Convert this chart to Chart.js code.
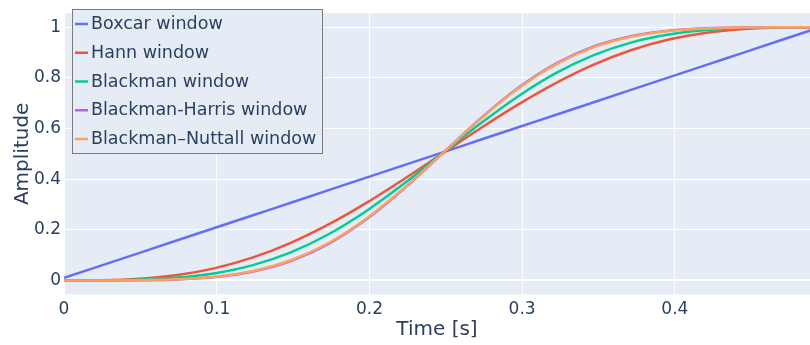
<!DOCTYPE html>
<html>
<head>
<meta charset="utf-8">
<script src="https://cdn.jsdelivr.net/npm/chart.js@4.4.1/dist/chart.umd.min.js"></script>
<style>
  html, body { margin: 0; padding: 0; background: #ffffff; }
  #wrap { position: relative; width: 810px; height: 345px; }
</style>
</head>
<body>
<div id="wrap"><canvas id="c" width="810" height="345"></canvas></div>
<script>
// Sample times (s) across the 0.495 s window
const timeS = [0, 0.02475, 0.0495, 0.07425, 0.099, 0.12375, 0.1485, 0.17325, 0.198, 0.22275,
  0.2475, 0.27225, 0.297, 0.32175, 0.3465, 0.37125, 0.396, 0.42075, 0.4455, 0.47025, 0.495];

// Normalised cumulative amplitude of each window
const boxcar = [0.01, 0.0595, 0.109, 0.1585, 0.208, 0.2575, 0.307, 0.3565, 0.406, 0.4555,
  0.505, 0.5545, 0.604, 0.6535, 0.703, 0.7525, 0.802, 0.8515, 0.901, 0.9505, 1.0];
const hann = [0, 0.00082, 0.00645, 0.02124, 0.04863, 0.09085, 0.14863, 0.22124, 0.30645, 0.40082,
  0.5, 0.59918, 0.69355, 0.77876, 0.85137, 0.90915, 0.95137, 0.97876, 0.99355, 0.99918, 1.0];
const blackman = [0, 0.00036, 0.00305, 0.01114, 0.02871, 0.06053, 0.11089, 0.1823, 0.27421, 0.38254,
  0.5, 0.61746, 0.72579, 0.8177, 0.88911, 0.93947, 0.97129, 0.98886, 0.99695, 0.99964, 1.0];
const blackmanHarris = [0, 0.00008, 0.00084, 0.00403, 0.01341, 0.03511, 0.07657, 0.14441, 0.24122, 0.36324,
  0.5, 0.63676, 0.75878, 0.85559, 0.92343, 0.96489, 0.98659, 0.99597, 0.99916, 0.99992, 1.0];
const blackmanNuttall = [0, 0.00014, 0.00109, 0.00473, 0.01482, 0.03742, 0.07968, 0.14785, 0.24421, 0.365,
  0.5, 0.635, 0.75579, 0.85215, 0.92032, 0.96258, 0.98518, 0.99527, 0.99891, 0.99986, 1.0];

const seriesNames = ['Boxcar window', 'Hann window', 'Blackman window', 'Blackman-Harris window', 'Blackman\u2013Nuttall window'];
const seriesValues = [boxcar, hann, blackman, blackmanHarris, blackmanNuttall];
const seriesColors = ['#636efa', '#EF553B', '#00cc96', '#ab63fa', '#FFA15A'];

const xTicks = [0, 0.1, 0.2, 0.3, 0.4];
const yTicks = [0, 0.2, 0.4, 0.6, 0.8, 1];

const FONT = 'DejaVu Sans';
const TEXT = '#2a3f5f';
const PLOT_BG = '#E5ECF6';

const plotBackground = {
  id: 'plotBackground',
  beforeDraw(chart) {
    const { ctx, chartArea: a } = chart;
    ctx.save();
    ctx.fillStyle = PLOT_BG;
    ctx.fillRect(a.left, a.top, a.right - a.left, a.bottom - a.top);
    ctx.restore();
  }
};

// Boxed legend in the upper-left corner of the plot
const boxedLegend = {
  id: 'boxedLegend',
  afterDraw(chart) {
    const ctx = chart.ctx;
    const x0 = 72.5, y0 = 9.5, w = 250, h = 144;
    ctx.save();
    ctx.fillStyle = PLOT_BG;
    ctx.fillRect(x0, y0, w, h);
    ctx.strokeStyle = '#7a7a7a';
    ctx.lineWidth = 1;
    ctx.strokeRect(x0, y0, w, h);
    ctx.font = '17.5px "' + FONT + '"';
    ctx.textBaseline = 'middle';
    ctx.textAlign = 'left';
    seriesNames.forEach((name, i) => {
      const y = 24 + 28.75 * i;
      ctx.strokeStyle = seriesColors[i];
      ctx.lineWidth = 2.5;
      ctx.beginPath();
      ctx.moveTo(75, y);
      ctx.lineTo(88, y);
      ctx.stroke();
      ctx.fillStyle = TEXT;
      ctx.fillText(name, 91, y + 0.5);
    });
    ctx.restore();
  }
};

const datasets = seriesNames.map((name, i) => ({
  label: name,
  data: timeS.map((t, k) => ({ x: t, y: seriesValues[i][k] })),
  borderColor: seriesColors[i],
  backgroundColor: seriesColors[i],
  borderWidth: 2.5,
  pointRadius: 0,
  fill: false,
  cubicInterpolationMode: 'monotone',
  order: seriesNames.length - i
}));

new Chart(document.getElementById('c'), {
  type: 'line',
  data: { datasets },
  options: {
    responsive: false,
    animation: false,
    devicePixelRatio: 1,
    layout: { padding: { top: 5.5, right: 0, bottom: 0, left: 0 } },
    plugins: { legend: { display: false }, tooltip: { enabled: false } },
    scales: {
      x: {
        type: 'linear',
        min: 0,
        max: 0.4885,
        afterBuildTicks: s => { s.ticks = xTicks.map(v => ({ value: v })); },
        afterFit: s => { s.height = 50.5; },
        grid: { color: '#ffffff', lineWidth: 1, drawTicks: false },
        border: { display: false },
        ticks: { padding: 5, color: TEXT, font: { family: FONT, size: 17 }, maxRotation: 0,
                 callback: v => String(v) },
        title: { display: true, text: 'Time [s]', color: TEXT, font: { family: FONT, size: 20 },
                 padding: { top: 0, bottom: 3 } }
      },
      y: {
        type: 'linear',
        min: -0.0556,
        max: 1.0556,
        afterBuildTicks: s => { s.ticks = yTicks.map(v => ({ value: v })); },
        afterFit: s => { s.width = 64; },
        grid: { color: '#ffffff', lineWidth: c => (c.tick && c.tick.value === 0 ? 2 : 1), drawTicks: false },
        border: { display: false },
        ticks: { padding: 3, color: TEXT, font: { family: FONT, size: 17 }, callback: v => String(v) },
        title: { display: true, text: 'Amplitude', color: TEXT, font: { family: FONT, size: 20 },
                 padding: { top: 11, bottom: 0 } }
      }
    }
  },
  plugins: [plotBackground, boxedLegend]
});
</script>
</body>
</html>
